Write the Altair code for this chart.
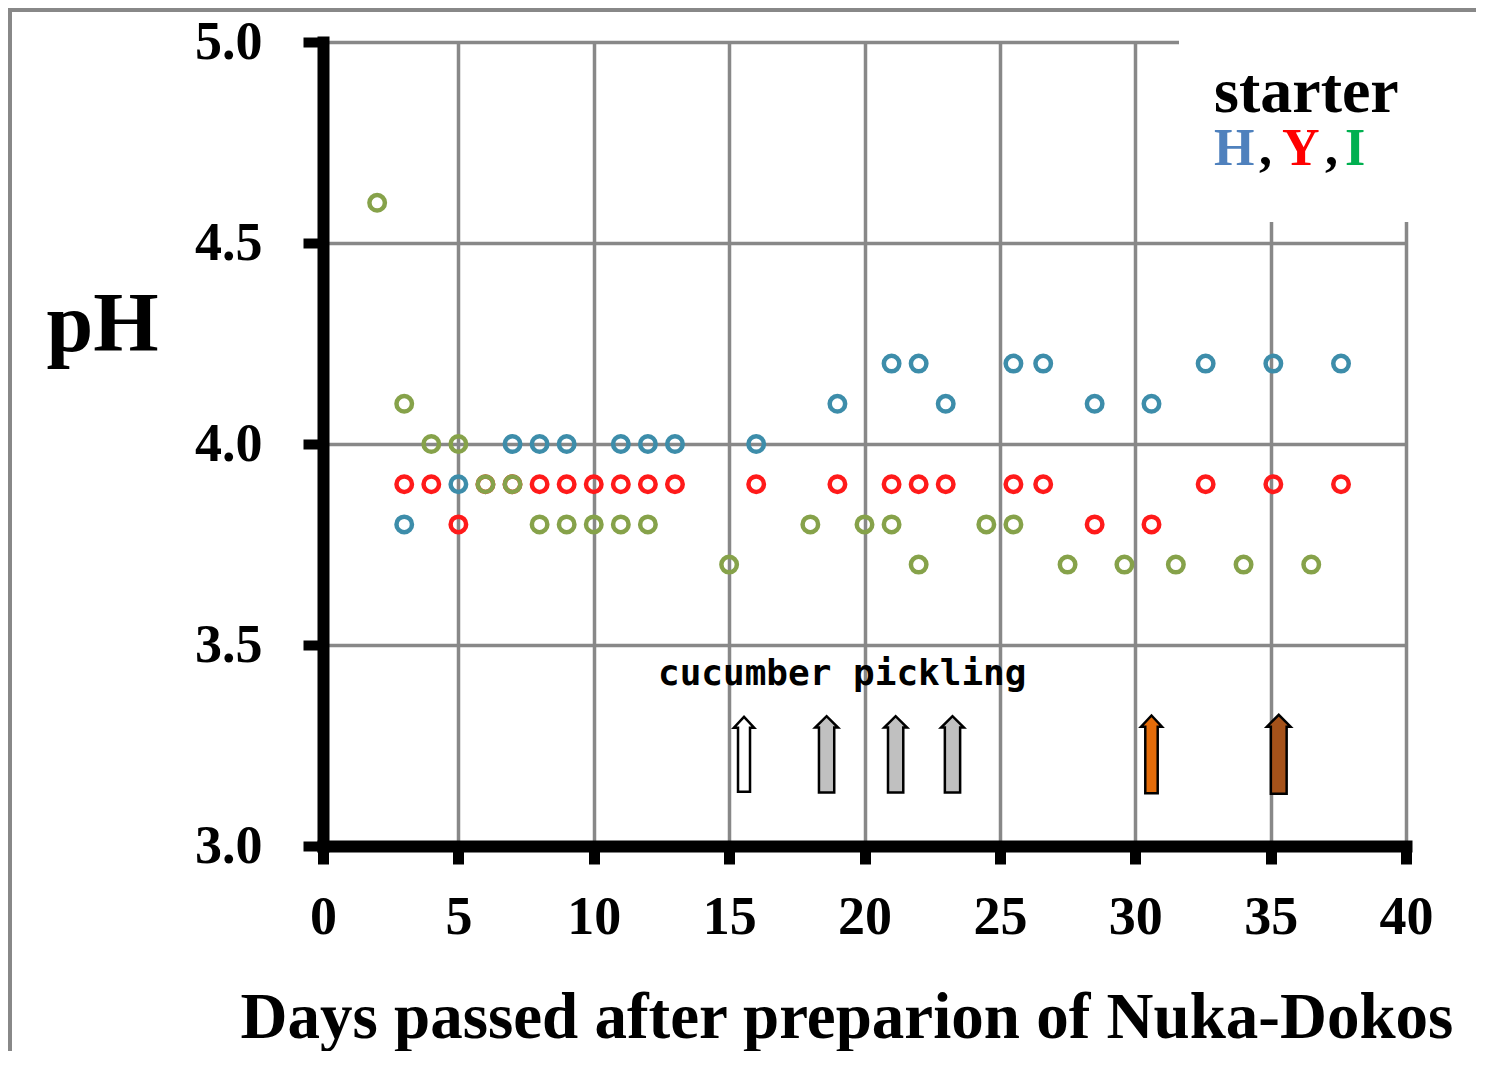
import altair as alt
import pandas as pd

# ---- data ----
h_days = [3, 5, 7, 8, 9, 11, 12, 13, 16, 19, 21, 22, 23, 25.5, 26.6, 28.5, 30.6, 32.6, 35.1, 37.6]
h_ph = [3.8, 3.9, 4.0, 4.0, 4.0, 4.0, 4.0, 4.0, 4.0, 4.1, 4.2, 4.2, 4.1, 4.2, 4.2, 4.1, 4.1, 4.2, 4.2, 4.2]

y_days = [3, 4, 5, 6, 7, 8, 9, 10, 11, 12, 13, 16, 19, 21, 22, 23, 25.5, 26.6, 28.5, 30.6, 32.6, 35.1, 37.6]
y_ph = [3.9, 3.9, 3.8, 3.9, 3.9, 3.9, 3.9, 3.9, 3.9, 3.9, 3.9, 3.9, 3.9, 3.9, 3.9, 3.9, 3.9, 3.9, 3.8, 3.8, 3.9, 3.9, 3.9]

i_days = [2, 3, 4, 5, 6, 7, 8, 9, 10, 11, 12, 15, 18, 20, 21, 22, 24.5, 25.5, 27.5, 29.6, 31.5, 34.0, 36.5]
i_ph = [4.6, 4.1, 4.0, 4.0, 3.9, 3.9, 3.8, 3.8, 3.8, 3.8, 3.8, 3.7, 3.8, 3.8, 3.8, 3.7, 3.8, 3.8, 3.7, 3.7, 3.7, 3.7, 3.7]

pickling_days = [15.55, 18.6, 21.15, 23.25, 30.6, 35.3]
pickling_kind = ["k1", "k2", "k2", "k2", "k3", "k4"]
pickling_ph = [3.228] * 6

x_ticks = [0, 5, 10, 15, 20, 25, 30, 35, 40]
y_ticks = [3.0, 3.5, 4.0, 4.5, 5.0]

x_title = "Days passed after preparion of Nuka-Dokos"
y_title = "pH"
note_text = "cucumber pickling"

# ---- frames ----
df_h = pd.DataFrame({"day": h_days, "ph": h_ph})
df_y = pd.DataFrame({"day": y_days, "ph": y_ph})
df_i = pd.DataFrame({"day": i_days, "ph": i_ph})
df_arrow = pd.DataFrame({"day": pickling_days, "ph": pickling_ph, "kind": pickling_kind})
one = pd.DataFrame({"a": [0]})

W, H = 1083, 804
SERIF = "Liberation Serif"

xscale = alt.Scale(domain=[0, 40], nice=False, zero=False)
yscale = alt.Scale(domain=[3, 5], nice=False, zero=False)

x_axis = alt.Axis(
    values=x_ticks, format="d", grid=True, gridColor="#888888", gridWidth=3.5,
    domainColor="black", domainWidth=12, domainCap="square",
    tickColor="black", tickWidth=11, tickSize=18,
    labelFont=SERIF, labelFontWeight="bold", labelFontSize=54, labelColor="black",
    labelPadding=26, labelFlush=False, labelOverlap=False,
    title=x_title, titleFont=SERIF, titleFontWeight="bold", titleFontSize=65,
    titleColor="black", titleX=-83, titleY=191, titleAlign="left",
    titleBaseline="alphabetic", titleAnchor="start",
)
y_axis = alt.Axis(
    values=y_ticks, format=".1f", grid=True, gridColor="#888888", gridWidth=3.5,
    domainColor="black", domainWidth=12, domainCap="square",
    tickColor="black", tickWidth=10, tickSize=20,
    labelFont=SERIF, labelFontWeight="bold", labelFontSize=54, labelColor="black",
    labelPadding=41, labelFlush=False, labelOverlap=False,
    title=y_title, titleFont=SERIF, titleFontWeight="bold", titleFontSize=84,
    titleColor="black", titleAngle=0, titleX=-277, titleY=308, titleAlign="left",
    titleBaseline="alphabetic",
)

X = alt.X("day:Q", scale=xscale, axis=x_axis)
Y = alt.Y("ph:Q", scale=yscale, axis=y_axis)


def pts(df, color):
    return alt.Chart(df).mark_point(
        shape="circle", size=240, strokeWidth=4.5, filled=False, color=color, opacity=1
    ).encode(x=X, y=Y)


layer_h = pts(df_h, "#3d8daa")
layer_y = pts(df_y, "#ff1a1a")
layer_i = pts(df_i, "#86a24a")

# legend box mask (hides grid behind the legend)
mask = alt.Chart(one).mark_rect(color="white").encode(
    x=alt.value(856), x2=alt.value(1095), y=alt.value(-6), y2=alt.value(180)
)

# arrows (cucumber pickling)
path_narrow = "M-0.16,1L-0.16,-0.71L-0.27,-0.71L0,-1L0.27,-0.71L0.16,-0.71L0.16,1Z"
path_wide = "M-0.2,1L-0.2,-0.7L-0.3,-0.7L0,-1L0.3,-0.7L0.2,-0.7L0.2,1Z"
kinds = ["k1", "k2", "k3", "k4"]
arrows = alt.Chart(df_arrow).mark_point(filled=True, stroke="black", strokeWidth=2.5, opacity=1).encode(
    x=X, y=Y,
    shape=alt.Shape("kind:N", scale=alt.Scale(domain=kinds,
                                              range=[path_narrow, path_wide, path_narrow, path_wide]), legend=None),
    size=alt.Size("kind:N", scale=alt.Scale(domain=kinds, range=[5625, 6241, 5625, 6241]), legend=None),
    fill=alt.Fill("kind:N", scale=alt.Scale(domain=kinds,
                                            range=["#ffffff", "#c0c0c0", "#e36c0a", "#a5521a"]), legend=None),
)

note = alt.Chart(one).mark_text(
    text=note_text, font="DejaVu Sans Mono", fontWeight="bold", fontSize=36,
    align="left", baseline="alphabetic", color="black"
).encode(x=alt.value(335), y=alt.value(643))

starter = alt.Chart(one).mark_text(
    text="starter", font=SERIF, fontWeight="bold", fontSize=64,
    align="left", baseline="alphabetic", color="black"
).encode(x=alt.value(891), y=alt.value(70))

legend_tokens = ["H", ",", "Y", ",", "I"]
legend_colors = ["#4f81bd", "black", "#ff0000", "black", "#00b050"]
legend_x = [891, 936, 959, 1002, 1022]
legend_layers = []
for tok, col, lx in zip(legend_tokens, legend_colors, legend_x):
    legend_layers.append(
        alt.Chart(one).mark_text(
            text=tok, font=SERIF, fontWeight="bold", fontSize=52,
            align="left", baseline="alphabetic", color=col
        ).encode(x=alt.value(lx), y=alt.value(123))
    )

# outer frame (left and top gray lines)
frame_left = alt.Chart(one).mark_rule(color="#888888", strokeWidth=4).encode(
    x=alt.value(-313), y=alt.value(-32), y2=alt.value(1030)
)
frame_top = alt.Chart(one).mark_rule(color="#888888", strokeWidth=4).encode(
    x=alt.value(-315), x2=alt.value(1170), y=alt.value(-32)
)

chart = alt.layer(
    layer_h, mask, layer_y, layer_i, arrows, note, starter, *legend_layers, frame_left, frame_top
).properties(
    width=W, height=H,
    padding={"left": 315, "top": 34, "right": 70, "bottom": 205},
    autosize=alt.AutoSizeParams(type="none"),
    background="white",
).configure_view(strokeWidth=0)

chart.save("out.html", embed_options={"renderer": "svg", "actions": False})
